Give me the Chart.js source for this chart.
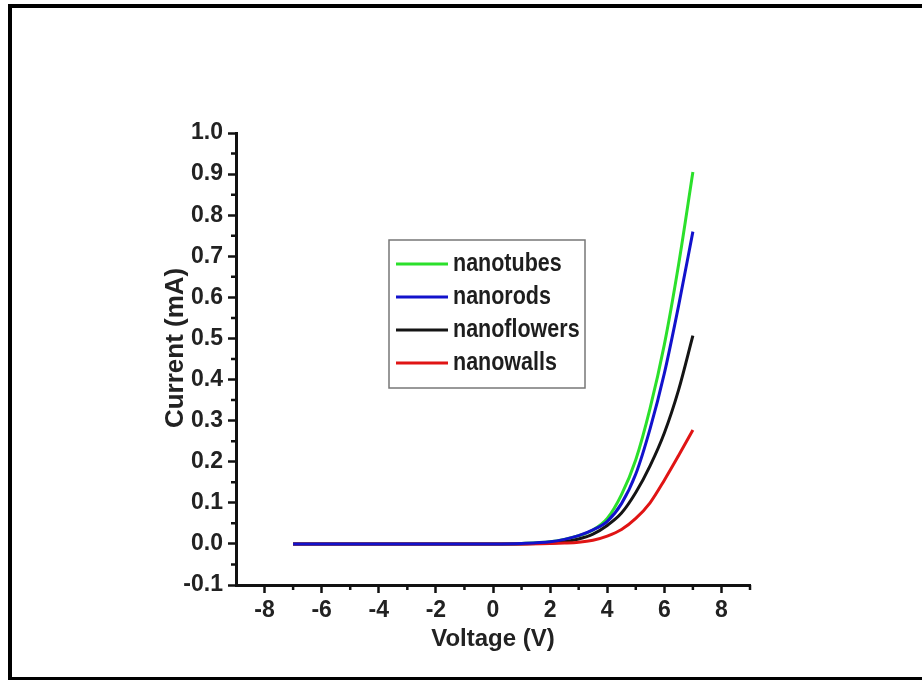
<!DOCTYPE html>
<html>
<head>
<meta charset="utf-8">
<script src="https://cdn.jsdelivr.net/npm/chart.js@4.4.0/dist/chart.umd.min.js"></script>
<style>
  html, body { margin: 0; padding: 0; background: #fff; }
  #wrap { position: relative; width: 922px; height: 680px; }
</style>
</head>
<body>
<div id="wrap"><canvas id="chart" width="922" height="680"></canvas></div>
<script>
// I-V data
const voltage     = [-7, -6, -5, -4, -3, -2, -1, 0, 1, 2, 2.5, 3, 3.5, 4, 4.5, 5, 5.5, 6, 6.5, 7];
const nanotubes   = [0, 0, 0, 0, 0, 0, 0, 0, 0.001, 0.005, 0.011, 0.02, 0.034, 0.062, 0.12, 0.205, 0.33, 0.485, 0.68, 0.905];
const nanorods    = [0, 0, 0, 0, 0, 0, 0, 0, 0.001, 0.005, 0.011, 0.02, 0.034, 0.055, 0.098, 0.17, 0.28, 0.415, 0.58, 0.76];
const nanoflowers = [0, 0, 0, 0, 0, 0, 0, 0, 0, 0.002, 0.005, 0.012, 0.024, 0.045, 0.075, 0.125, 0.19, 0.27, 0.375, 0.507];
const nanowalls   = [0, 0, 0, 0, 0, 0, 0, 0, 0, 0.001, 0.002, 0.004, 0.009, 0.019, 0.035, 0.062, 0.1, 0.155, 0.215, 0.277];

const xTickValues = [-8, -6, -4, -2, 0, 2, 4, 6, 8];
const yTickValues = [-0.1, 0, 0.1, 0.2, 0.3, 0.4, 0.5, 0.6, 0.7, 0.8, 0.9, 1.0];
const xMinorTicks = [-7, -5, -3, -1, 1, 3, 5, 7, 9];
const yMinorTicks = [-0.05, 0.05, 0.15, 0.25, 0.35, 0.45, 0.55, 0.65, 0.75, 0.85, 0.95];

const xTitle = 'Voltage (V)';
const yTitle = 'Current (mA)';

const FONT = '"Liberation Sans Narrow", "Arial Narrow", "Liberation Sans", Arial, sans-serif';
const tickFont = { family: FONT, size: 23, weight: 'bold' };

const toPoints = ys => ys.map((y, i) => ({ x: voltage[i], y: y }));

// white page + black frame (top, left, bottom)
const framePlugin = {
    id: 'frame',
    beforeDraw(chart) {
        const ctx = chart.ctx;
        ctx.save();
        ctx.fillStyle = '#fff';
        ctx.fillRect(0, 0, chart.width, chart.height);
        ctx.restore();
    },
    afterDraw(chart) {
        const ctx = chart.ctx;
        ctx.save();
        ctx.fillStyle = '#000';
        ctx.fillRect(8, 4, chart.width - 8, 4);
        ctx.fillRect(8, 4, 4, chart.height - 4);
        ctx.fillRect(8, chart.height - 3, chart.width - 8, 3);
        ctx.restore();
    }
};

// small outward ticks between the labelled ones, plus the y title
const axisExtrasPlugin = {
    id: 'axisExtras',
    afterDraw(chart) {
        const ctx = chart.ctx;
        const xs = chart.scales.x, ys = chart.scales.y;
        ctx.save();
        ctx.strokeStyle = '#111';
        ctx.lineWidth = 2.5;
        ctx.beginPath();
        xMinorTicks.forEach(v => {
            const px = xs.getPixelForValue(v);
            ctx.moveTo(px, xs.top);
            ctx.lineTo(px, xs.top + 5);
        });
        yMinorTicks.forEach(v => {
            const py = ys.getPixelForValue(v);
            ctx.moveTo(ys.right, py);
            ctx.lineTo(ys.right - 5, py);
        });
        ctx.stroke();

        // y title sits a bit above the middle of the axis in the original
        ctx.translate(176, ys.getPixelForValue(0.477));
        ctx.rotate(-Math.PI / 2);
        ctx.font = 'bold 26px ' + FONT;
        ctx.fillStyle = '#222';
        ctx.textAlign = 'center';
        ctx.textBaseline = 'middle';
        ctx.fillText(yTitle, 0, 0);
        ctx.restore();
    }
};

// legend box inside the plot
const boxLegendPlugin = {
    id: 'boxLegend',
    afterDraw(chart) {
        const ctx = chart.ctx;
        const left = 389, top = 240, w = 196, h = 148;
        ctx.save();
        ctx.strokeStyle = '#777';
        ctx.lineWidth = 1.5;
        ctx.strokeRect(left, top, w, h);
        ctx.font = 'bold 25px ' + FONT;
        ctx.textBaseline = 'middle';
        ctx.textAlign = 'left';
        chart.data.datasets.forEach((ds, i) => {
            const y = 264 + i * 33;
            ctx.strokeStyle = ds.borderColor;
            ctx.lineWidth = 3;
            ctx.beginPath();
            ctx.moveTo(396, y);
            ctx.lineTo(448, y);
            ctx.stroke();
            // squeeze the text to look like the narrow face of the original
            ctx.save();
            ctx.translate(453, y);
            ctx.scale(0.86, 1);
            ctx.fillStyle = '#1e1e1e';
            ctx.fillText(ds.label, 0, 0);
            ctx.restore();
        });
        ctx.restore();
    }
};

new Chart(document.getElementById('chart'), {
    type: 'line',
    data: {
        datasets: [
            { label: 'nanotubes', data: toPoints(nanotubes), borderColor: '#2be02b', order: 3 },
            { label: 'nanorods', data: toPoints(nanorods), borderColor: '#1212cc', order: 0 },
            { label: 'nanoflowers', data: toPoints(nanoflowers), borderColor: '#141414', order: 2 },
            { label: 'nanowalls', data: toPoints(nanowalls), borderColor: '#e01414', order: 1 }
        ]
    },
    options: {
        responsive: false,
        animation: false,
        devicePixelRatio: 1,
        datasets: {
            line: {
                borderWidth: 3,
                pointRadius: 0,
                fill: false,
                cubicInterpolationMode: 'monotone'
            }
        },
        layout: { padding: { left: 163, top: 133, right: 172, bottom: 26 } },
        plugins: {
            legend: { display: false },
            tooltip: { enabled: false }
        },
        scales: {
            x: {
                type: 'linear',
                min: -9,
                max: 9,
                afterBuildTicks: s => { s.ticks = xTickValues.map(v => ({ value: v })); },
                afterFit: s => { s.height = 69; },
                grid: { drawOnChartArea: false, drawTicks: true, tickLength: 8, tickWidth: 2.5, tickColor: '#111' },
                border: { display: true, color: '#111', width: 3 },
                ticks: {
                    font: tickFont, color: '#222', padding: 4,
                    maxRotation: 0, autoSkip: false,
                    callback: v => String(v)
                },
                title: { display: true, text: xTitle, font: { family: FONT, size: 24, weight: 'bold' }, color: '#222', padding: 0 }
            },
            y: {
                type: 'linear',
                min: -0.1,
                max: 1.0,
                afterBuildTicks: s => { s.ticks = yTickValues.map(v => ({ value: v })); },
                afterFit: s => { s.width = 73; },
                grid: { drawOnChartArea: false, drawTicks: true, tickLength: 8, tickWidth: 2.5, tickColor: '#111' },
                border: { display: true, color: '#111', width: 3 },
                ticks: {
                    font: tickFont, color: '#222', padding: 5,
                    autoSkip: false,
                    callback: v => v.toFixed(1)
                },
                title: { display: false, text: yTitle }
            }
        }
    },
    plugins: [framePlugin, axisExtrasPlugin, boxLegendPlugin]
});
</script>
</body>
</html>
